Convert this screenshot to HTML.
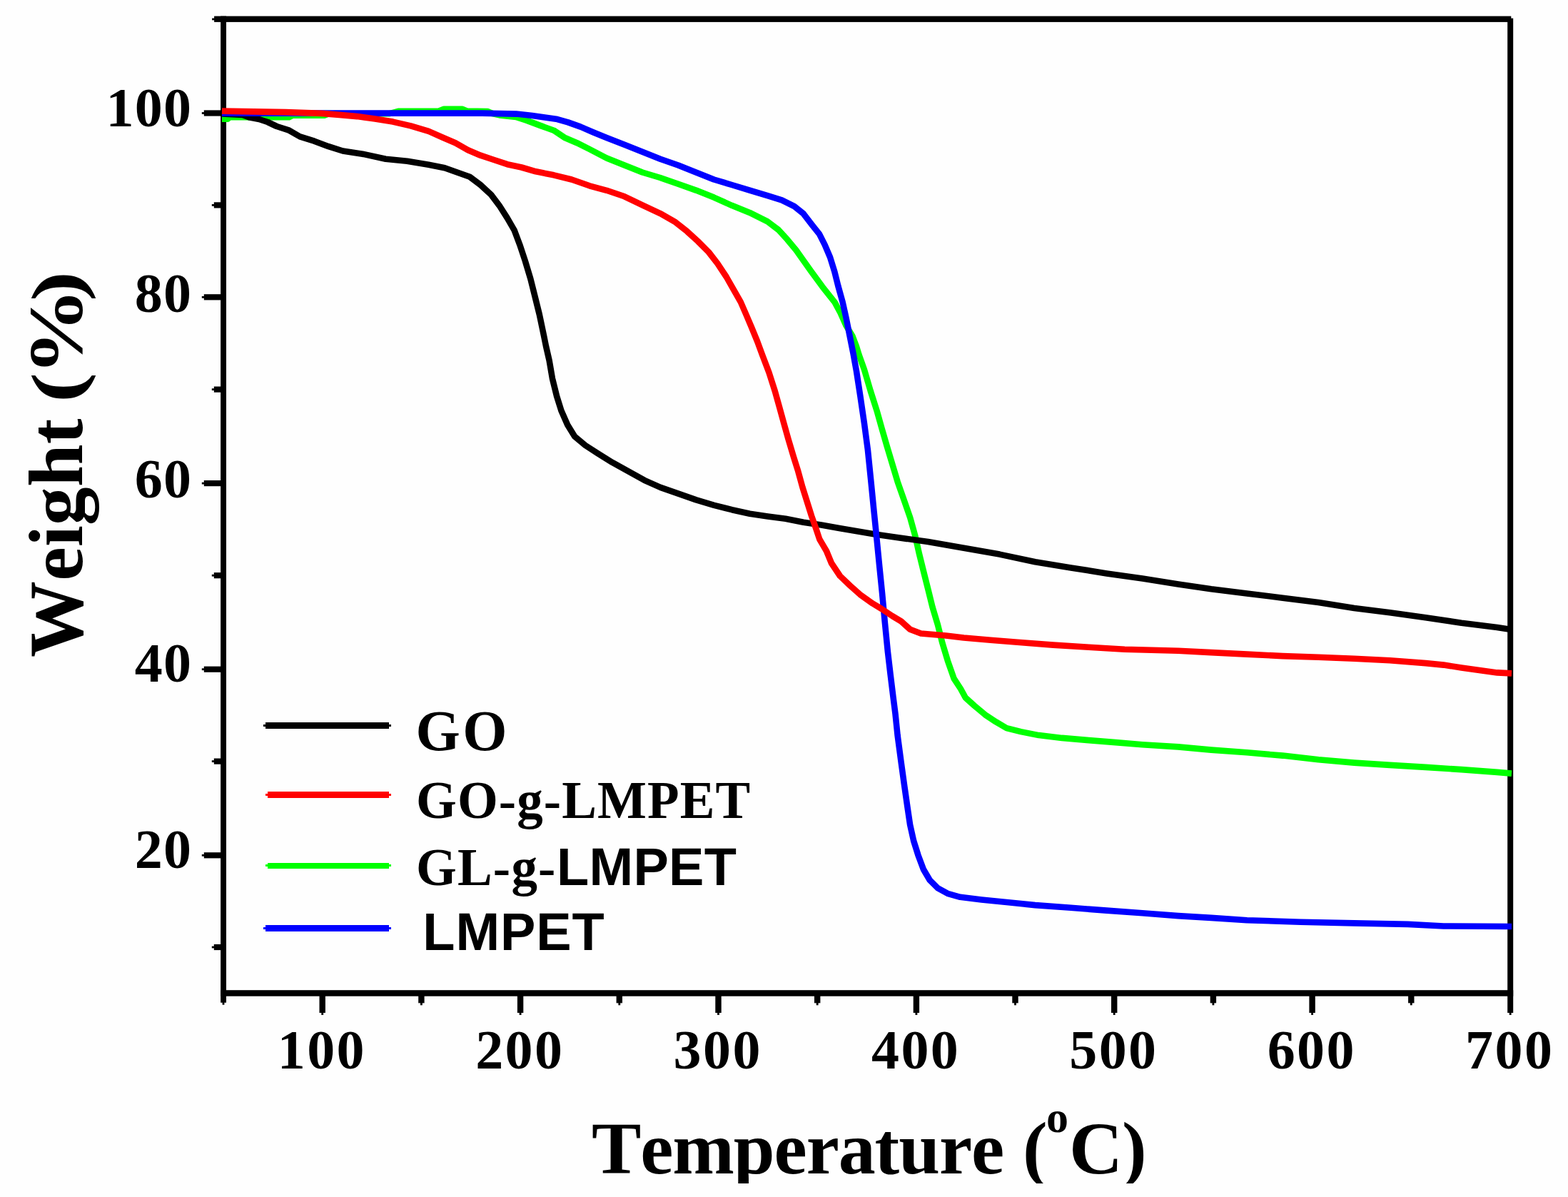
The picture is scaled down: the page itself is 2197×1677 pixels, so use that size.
<!DOCTYPE html>
<html lang="en">
<head>
<meta charset="utf-8">
<title>TGA curves: GO, GO-g-LMPET, GL-g-LMPET, LMPET</title>
<style>
html,body{margin:0;padding:0;background:#fefefe;}
body{width:2197px;height:1677px;overflow:hidden;}
svg{display:block;}
</style>
</head>
<body>
<svg width="2197" height="1677" viewBox="0 0 2197 1677">
<rect width="2197" height="1677" fill="#fefefe"/>
<g fill="#000">
<rect x="309.1" y="22.6" width="7.9" height="1382.1" fill="#000"/>
<rect x="2112.2" y="25.6" width="8" height="1393.4" fill="#000"/>
<rect x="300.1" y="22.6" width="1817.2" height="8.3" fill="#000"/>
<rect x="309.1" y="1387.2" width="1811.1" height="8.5" fill="#000"/>
<rect x="285.8" y="154.4" width="25.3" height="8.2" fill="#000"/>
<rect x="282.8" y="157.1" width="4" height="2.8" fill="#000"/>
<rect x="299.8" y="283.3" width="11.3" height="8.2" fill="#000"/>
<rect x="296.8" y="286" width="4" height="2.8" fill="#000"/>
<rect x="285.8" y="412.2" width="25.3" height="8.2" fill="#000"/>
<rect x="282.8" y="414.9" width="4" height="2.8" fill="#000"/>
<rect x="299.8" y="541.5" width="11.3" height="8.2" fill="#000"/>
<rect x="296.8" y="544.2" width="4" height="2.8" fill="#000"/>
<rect x="285.8" y="673" width="25.3" height="8.2" fill="#000"/>
<rect x="282.8" y="675.7" width="4" height="2.8" fill="#000"/>
<rect x="299.8" y="802.1" width="11.3" height="8.2" fill="#000"/>
<rect x="296.8" y="804.8" width="4" height="2.8" fill="#000"/>
<rect x="285.8" y="933.6" width="25.3" height="8.2" fill="#000"/>
<rect x="282.8" y="936.3" width="4" height="2.8" fill="#000"/>
<rect x="299.8" y="1062.5" width="11.3" height="8.2" fill="#000"/>
<rect x="296.8" y="1065.2" width="4" height="2.8" fill="#000"/>
<rect x="285.8" y="1194.2" width="25.3" height="8.2" fill="#000"/>
<rect x="282.8" y="1196.9" width="4" height="2.8" fill="#000"/>
<rect x="299.8" y="1322.9" width="11.3" height="8.2" fill="#000"/>
<rect x="296.8" y="1325.6" width="4" height="2.8" fill="#000"/>
<rect x="447.5" y="1393.7" width="8.4" height="25.3" fill="#000"/>
<rect x="450.3" y="1418" width="2.8" height="4" fill="#000"/>
<rect x="586.2" y="1393.7" width="8.4" height="11.6" fill="#000"/>
<rect x="589" y="1404.3" width="2.8" height="4" fill="#000"/>
<rect x="724.9" y="1393.7" width="8.4" height="25.3" fill="#000"/>
<rect x="727.7" y="1418" width="2.8" height="4" fill="#000"/>
<rect x="863.6" y="1393.7" width="8.4" height="11.6" fill="#000"/>
<rect x="866.4" y="1404.3" width="2.8" height="4" fill="#000"/>
<rect x="1002.3" y="1393.7" width="8.4" height="25.3" fill="#000"/>
<rect x="1005.1" y="1418" width="2.8" height="4" fill="#000"/>
<rect x="1141" y="1393.7" width="8.4" height="11.6" fill="#000"/>
<rect x="1143.8" y="1404.3" width="2.8" height="4" fill="#000"/>
<rect x="1279.7" y="1393.7" width="8.4" height="25.3" fill="#000"/>
<rect x="1282.5" y="1418" width="2.8" height="4" fill="#000"/>
<rect x="1418.3" y="1393.7" width="8.4" height="11.6" fill="#000"/>
<rect x="1421.1" y="1404.3" width="2.8" height="4" fill="#000"/>
<rect x="1557" y="1393.7" width="8.4" height="25.3" fill="#000"/>
<rect x="1559.8" y="1418" width="2.8" height="4" fill="#000"/>
<rect x="1695.7" y="1393.7" width="8.4" height="11.6" fill="#000"/>
<rect x="1698.5" y="1404.3" width="2.8" height="4" fill="#000"/>
<rect x="1834.4" y="1393.7" width="8.4" height="25.3" fill="#000"/>
<rect x="1837.2" y="1418" width="2.8" height="4" fill="#000"/>
<rect x="1973.1" y="1393.7" width="8.4" height="11.6" fill="#000"/>
<rect x="1975.9" y="1404.3" width="2.8" height="4" fill="#000"/>
<rect x="297.1" y="25.5" width="4" height="2.8" fill="#000"/>
<rect x="311.6" y="1403.7" width="2.8" height="4" fill="#000"/>
<rect x="2114.8" y="1417.7" width="2.8" height="4.3" fill="#000"/>
</g>
<g>
<polyline points="311.0,166.8 319.0,166.8 322.0,164.3 405.0,164.3 410.0,161.6 455.0,161.6 460.0,159.5 545.0,159.3 558.0,155.8 615.0,155.5 622.0,152.8 648.0,152.8 654.0,155.5 683.0,156.0 690.0,159.0 700.0,161.4 723.0,164.0 738.3,168.9 758.3,176.4 775.9,182.7 790.9,192.7 808.4,200.2 826.0,209.0 850.0,221.5 875.0,231.5 900.1,241.5 925.1,249.0 950.2,257.8 975.2,266.6 1000.3,276.6 1025.3,287.8 1050.4,297.9 1075.4,310.4 1090.4,321.7 1103.0,335.4 1115.5,350.5 1127.0,366.7 1136.4,380.0 1152.4,401.8 1169.7,423.7 1177.5,438.3 1185.3,455.7 1194.5,471.0 1200.0,485.6 1203.5,497.0 1210.9,517.6 1219.7,547.6 1228.5,575.2 1235.5,600.2 1243.0,626.0 1250.2,650.1 1257.7,675.1 1266.5,700.2 1275.2,725.2 1282.2,750.3 1287.8,775.3 1294.0,800.4 1300.3,825.4 1306.5,850.5 1314.0,875.5 1320.3,900.6 1327.8,925.6 1336.6,950.6 1346.0,965.0 1352.8,977.5 1365.3,988.8 1380.3,1001.3 1395.4,1011.3 1410.4,1020.1 1430.4,1025.1 1455.5,1030.1 1488.0,1033.9 1525.6,1037.1 1563.2,1040.1 1600.7,1043.2 1650.8,1046.4 1697.1,1050.6 1747.2,1054.3 1797.3,1058.6 1847.4,1064.3 1897.5,1068.6 1947.5,1071.9 1997.6,1074.9 2047.7,1078.1 2097.8,1081.9 2118.0,1083.6" fill="none" stroke="#00ff00" stroke-width="8.6" stroke-linejoin="round" stroke-linecap="butt"/>
<polyline points="311.0,159.5 340.0,161.0 350.0,164.6 363.0,167.0 375.0,171.0 387.7,177.0 405.2,182.7 420.2,191.4 440.3,197.7 460.3,205.2 480.3,211.5 507.9,215.7 540.4,222.7 570.5,225.7 600.5,230.7 623.1,235.2 640.6,241.5 658.2,247.8 673.2,259.0 688.2,272.8 699.5,287.8 710.7,305.4 720.8,322.9 728.3,342.9 735.8,365.5 743.3,390.5 749.6,415.6 755.8,440.6 762.1,470.7 765.0,485.0 769.6,505.0 773.9,530.1 780.1,555.1 786.4,575.2 795.2,595.2 805.2,611.5 820.2,624.0 837.8,635.3 857.8,647.8 880.3,660.3 902.9,672.8 925.4,682.9 950.5,691.6 975.5,700.4 1000.5,707.9 1025.6,714.2 1050.6,719.7 1075.7,723.4 1100.7,726.7 1125.8,731.7 1150.8,735.5 1175.9,740.0 1200.9,744.2 1226.0,748.5 1250.0,752.0 1300.3,759.0 1350.4,767.8 1400.5,776.6 1450.5,787.3 1500.6,795.4 1550.7,803.4 1600.8,810.4 1650.9,818.4 1697.1,825.2 1747.2,831.4 1797.3,837.7 1847.4,843.9 1897.5,852.0 1947.5,858.2 1997.6,865.2 2047.7,872.7 2097.8,879.0 2114.0,881.5" fill="none" stroke="#000000" stroke-width="8.6" stroke-linejoin="round" stroke-linecap="butt"/>
<polyline points="311.0,158.6 675.7,158.6 723.3,159.6 745.8,162.1 763.3,164.4 780.9,167.1 795.9,171.4 813.4,177.6 831.0,185.2 850.0,193.0 875.0,202.7 900.1,212.7 925.1,222.7 950.2,231.5 975.2,241.5 1000.3,251.5 1025.3,259.0 1050.4,266.6 1075.4,274.1 1095.4,280.3 1113.0,289.1 1125.5,299.1 1138.0,315.4 1148.0,327.9 1155.6,342.9 1163.1,360.5 1169.3,380.5 1174.3,400.5 1180.6,423.1 1185.6,445.6 1190.6,470.7 1195.6,495.7 1200.0,520.0 1205.4,555.1 1210.9,592.7 1215.9,630.3 1220.5,675.4 1224.7,717.9 1228.5,755.5 1232.2,793.1 1236.0,830.6 1239.7,870.7 1243.9,913.1 1247.7,945.6 1251.4,975.7 1254.5,1000.0 1257.6,1030.1 1262.6,1067.7 1267.1,1100.3 1271.4,1130.3 1275.1,1155.4 1280.1,1177.9 1286.4,1197.9 1293.9,1218.0 1302.7,1233.0 1314.0,1244.3 1327.7,1251.8 1345.3,1256.8 1375.3,1260.5 1412.9,1264.3 1450.5,1268.1 1500.5,1271.8 1550.6,1275.6 1600.7,1279.3 1650.8,1283.1 1697.1,1285.9 1747.2,1289.2 1822.3,1291.7 1897.5,1293.4 1972.6,1294.9 2022.7,1297.5 2118.0,1298.0" fill="none" stroke="#0000ff" stroke-width="8.6" stroke-linejoin="round" stroke-linecap="butt"/>
<polyline points="311.0,155.6 400.2,157.1 450.3,158.9 475.3,160.9 500.4,163.1 525.4,166.4 550.5,170.6 575.5,176.4 600.6,183.9 620.6,192.7 638.1,200.2 655.7,210.2 673.2,217.7 690.7,223.5 710.8,230.2 730.8,234.5 750.8,240.3 775.9,245.3 800.9,251.5 826.0,260.3 850.0,266.8 875.0,275.3 900.1,287.3 925.1,299.1 945.2,310.4 962.7,324.2 977.7,337.9 992.8,353.0 1005.3,369.2 1017.8,388.0 1027.8,405.6 1037.8,423.1 1045.4,440.6 1052.9,458.2 1061.0,478.0 1068.0,497.0 1077.5,522.0 1085.7,547.6 1092.0,570.2 1098.2,592.7 1104.5,615.2 1112.0,640.3 1118.3,660.3 1124.5,682.9 1130.8,702.9 1137.1,722.9 1143.3,740.5 1148.3,755.5 1158.0,772.0 1165.0,789.0 1177.0,807.0 1191.0,820.4 1205.1,832.9 1222.6,845.4 1235.2,853.0 1250.2,863.0 1262.7,870.5 1275.2,881.8 1290.3,887.5 1325.3,890.5 1350.4,893.5 1387.9,896.8 1425.5,899.8 1475.6,903.6 1525.7,906.8 1575.8,909.8 1650.9,911.8 1697.1,914.1 1747.2,916.6 1797.3,919.1 1847.4,920.8 1897.5,922.8 1947.5,925.3 1997.6,929.1 2022.7,931.6 2047.7,935.4 2072.8,939.1 2097.8,942.4 2118.0,943.4" fill="none" stroke="#ff0000" stroke-width="8.6" stroke-linejoin="round" stroke-linecap="butt"/>
</g>
<g shape-rendering="crispEdges">
<rect x="372.2" y="1012.2" width="173.1" height="8.6" fill="#000000"/>
<rect x="369.2" y="1015.1" width="3" height="2.8" fill="#000000"/>
<rect x="545.3" y="1015.1" width="3" height="2.8" fill="#000000"/>
<rect x="375" y="1108.9" width="170.3" height="8.6" fill="#ff0000"/>
<rect x="372" y="1111.8" width="3" height="2.8" fill="#ff0000"/>
<rect x="545.3" y="1111.8" width="3" height="2.8" fill="#ff0000"/>
<rect x="375" y="1208.5" width="170.3" height="8.6" fill="#00ff00"/>
<rect x="372" y="1211.4" width="3" height="2.8" fill="#00ff00"/>
<rect x="545.3" y="1211.4" width="3" height="2.8" fill="#00ff00"/>
<rect x="372.2" y="1296.4" width="173.1" height="8.6" fill="#0000ff"/>
<rect x="369.2" y="1299.3" width="3" height="2.8" fill="#0000ff"/>
<rect x="545.3" y="1299.3" width="3" height="2.8" fill="#0000ff"/>
</g>
<g font-family='"Liberation Serif", "DejaVu Serif", serif' font-weight="700" font-size="78" fill="#000">
<text x="269.2" y="176.5" text-anchor="end" letter-spacing="1.2">100</text>
<text x="269.2" y="436.5" text-anchor="end" letter-spacing="1.2">80</text>
<text x="269.2" y="697.0" text-anchor="end" letter-spacing="1.2">60</text>
<text x="269.2" y="955.0" text-anchor="end" letter-spacing="1.2">40</text>
<text x="269.2" y="1216.4" text-anchor="end" letter-spacing="1.2">20</text>
<text x="450.9" y="1497" text-anchor="middle" letter-spacing="2.4">100</text>
<text x="728.3" y="1497" text-anchor="middle" letter-spacing="2.4">200</text>
<text x="1005.7" y="1497" text-anchor="middle" letter-spacing="2.4">300</text>
<text x="1283.1" y="1497" text-anchor="middle" letter-spacing="2.4">400</text>
<text x="1560.4" y="1497" text-anchor="middle" letter-spacing="2.4">500</text>
<text x="1837.8" y="1497" text-anchor="middle" letter-spacing="2.4">600</text>
<text x="2115.2" y="1497" text-anchor="middle" letter-spacing="2.4">700</text>
</g>
<g font-family='"Liberation Serif", "DejaVu Serif", serif' font-weight="700" fill="#000">
<text x="582.5" y="1051" font-size="80" letter-spacing="3.5">GO</text>
<text x="583" y="1146" font-size="73" letter-spacing="1.1">GO-g-LMPET</text>
<text x="583" y="1240" font-size="73" letter-spacing="1.2">GL-g-<tspan x="780" font-family='"Liberation Sans", "DejaVu Sans", sans-serif' font-size="74" letter-spacing="0.3">LMPET</tspan></text>
<text x="592.3" y="1330.5" font-size="74" font-family='"Liberation Sans", "DejaVu Sans", sans-serif' letter-spacing="0.9">LMPET</text>
</g>
<clipPath id="xtclip"><rect x="0" y="1500" width="2197" height="158"/></clipPath>
<g font-family='"Liberation Serif", "DejaVu Serif", serif' font-weight="700" fill="#000" font-kerning="none" style="font-kerning:none">
<text clip-path="url(#xtclip)" x="829" y="1644" font-size="104" letter-spacing="-1.1">Temperature <tspan x="1433">(</tspan><tspan x="1466" y="1585.5" font-size="62">o</tspan><tspan x="1498" y="1644">C</tspan><tspan x="1572">)</tspan></text>
<text transform="translate(115 921) rotate(-90)" x="0" y="0" font-size="107" letter-spacing="0.3">Weight <tspan x="357" y="-2" font-size="100" letter-spacing="0" textLength="42" lengthAdjust="spacingAndGlyphs">(</tspan><tspan x="395" y="0" font-size="107" letter-spacing="0" textLength="122.5" lengthAdjust="spacingAndGlyphs">%</tspan><tspan x="499" y="-2" font-size="100" letter-spacing="0" textLength="42" lengthAdjust="spacingAndGlyphs">)</tspan></text>
</g>
</svg>
</body>
</html>
